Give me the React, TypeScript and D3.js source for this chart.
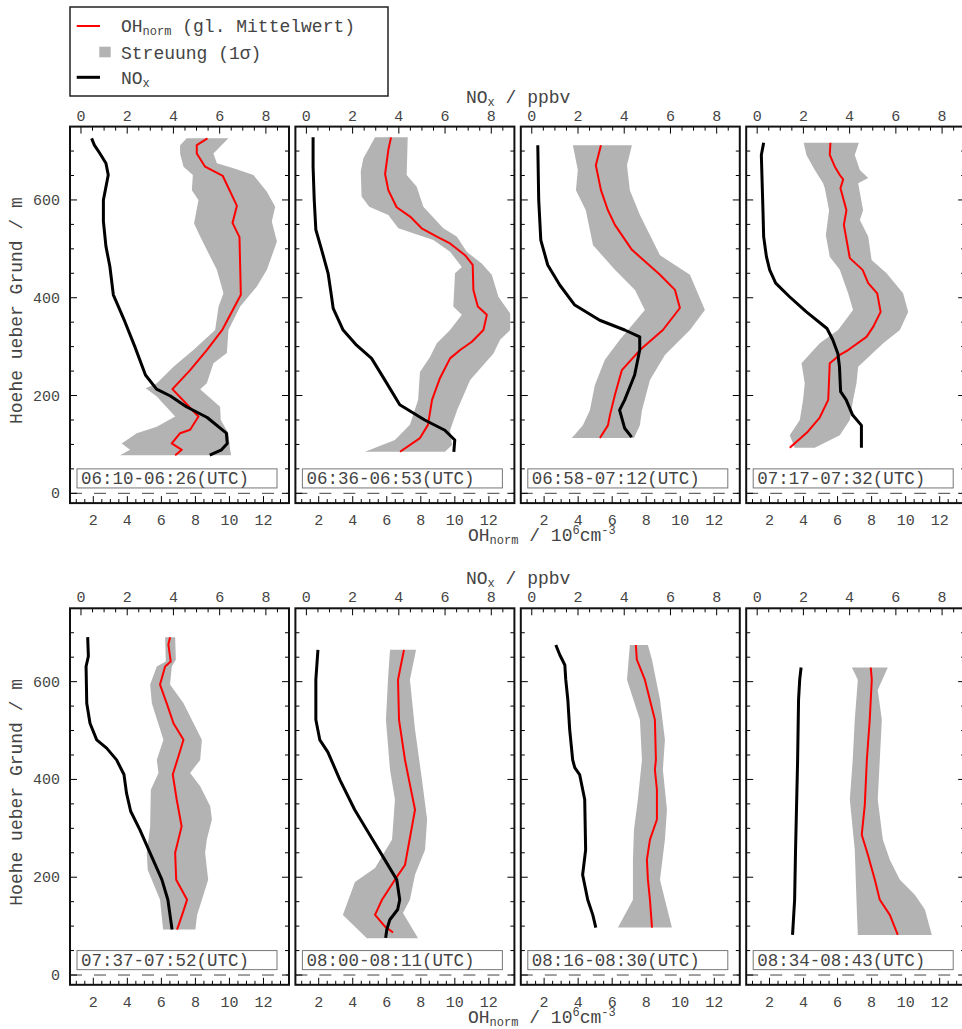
import React from 'react';
import * as d3 from 'd3';

type P = [number, number]; // [height above ground (m), value]

// ---------- panel labels ----------
const timeLabels: string[] = [
  '06:10-06:26(UTC)', '06:36-06:53(UTC)', '06:58-07:12(UTC)', '07:17-07:32(UTC)',
  '07:37-07:52(UTC)', '08:00-08:11(UTC)', '08:16-08:30(UTC)', '08:34-08:43(UTC)',
];

// ---------- tick values ----------
const ohMajorTicks: number[] = [2, 4, 6, 8, 10, 12];
const noxMajorTicks: number[] = [0, 2, 4, 6, 8];
const heightMajorTicks: number[] = [0, 200, 400, 600];

// ---------- Panel 1 ----------
const p1Oh: P[] = [[726, 8.71], [712, 8.08], [695, 8.08], [668, 8.57], [649, 9.61], [588, 10.44], [553, 10.18], [524, 10.59], [406, 10.67], [335, 9.59], [293, 8.67], [252, 7.69], [213, 6.65], [157, 8.18], [130, 7.69], [123, 7.1], [102, 6.61], [89, 7.2], [78, 6.81]];
const p1Lo: P[] = [[726, 7.49], [712, 7.1], [695, 7.1], [668, 7.3], [651, 7.85], [620, 7.79], [600, 8.18], [552, 7.92], [525, 8.28], [491, 8.77], [457, 9.26], [409, 9.65], [382, 9.36], [334, 9.16], [293, 7.88], [259, 6.71], [225, 5.73], [215, 5.08], [198, 5.73], [157, 6.81], [136, 5.73], [123, 4.55], [102, 3.67], [89, 4.16], [78, 3.57]];
const p1Hi: P[] = [[726, 9.94], [695, 9.06], [675, 9.26], [665, 10.24], [651, 11.41], [617, 12.2], [586, 12.69], [556, 12.49], [515, 12.79], [457, 12.2], [423, 11.61], [382, 10.63], [334, 9.94], [287, 9.85], [266, 9.06], [225, 8.67], [213, 8.28], [177, 9.45], [150, 9.49], [123, 9.94], [89, 10.04], [78, 10.1]];
const p1Nox: P[] = [[726, 0.46], [712, 0.58], [695, 0.82], [675, 1.08], [651, 1.18], [600, 0.97], [556, 0.97], [505, 1.08], [464, 1.25], [406, 1.4], [351, 1.9], [300, 2.33], [242, 2.79], [213, 3.27], [199, 3.87], [177, 4.56], [155, 5.46], [123, 6.29], [102, 6.33], [89, 6.08], [78, 5.57]];

// ---------- Panel 2 ----------
const p2Oh: P[] = [[728, 6.25], [702, 6.09], [653, 5.9], [620, 6.09], [585, 6.58], [566, 7.37], [542, 8.05], [525, 8.94], [511, 9.72], [487, 10.6], [467, 11.05], [416, 11.09], [382, 11.35], [365, 11.88], [334, 11.68], [310, 11.0], [293, 10.31], [276, 9.72], [236, 9.13], [191, 8.66], [140, 8.42], [113, 7.95], [85, 6.78]];
const p2Lo: P[] = [[728, 5.31], [685, 4.62], [658, 4.47], [607, 4.52], [586, 4.97], [569, 6.09], [542, 6.68], [518, 8.74], [494, 9.72], [463, 10.41], [450, 10.01], [382, 9.91], [365, 10.41], [334, 9.72], [307, 8.94], [279, 8.54], [248, 7.95], [191, 7.84], [140, 7.36], [109, 6.48], [85, 4.72]];
const p2Hi: P[] = [[728, 7.23], [651, 7.17], [627, 7.76], [586, 8.15], [542, 9.32], [525, 10.11], [494, 10.7], [470, 11.58], [447, 12.17], [402, 12.56], [368, 13.25], [334, 13.25], [314, 12.66], [286, 12.27], [232, 10.9], [170, 10.13], [129, 9.72], [99, 9.84], [85, 9.42]];
const p2Nox: P[] = [[728, 0.29], [668, 0.29], [600, 0.34], [539, 0.41], [498, 0.66], [450, 0.94], [402, 1.09], [378, 1.16], [334, 1.59], [303, 2.17], [276, 2.82], [232, 3.39], [181, 4.04], [150, 5.12], [129, 5.99], [109, 6.42], [85, 6.38]];

// ---------- Panel 3 ----------
const p3Oh: P[] = [[712, 5.34], [671, 5.04], [620, 5.34], [579, 5.75], [549, 6.16], [498, 7.16], [447, 8.81], [416, 9.69], [379, 9.98], [334, 8.98], [293, 7.63], [252, 6.57], [201, 6.16], [160, 5.87], [139, 5.75], [113, 5.28]];
const p3Lo: P[] = [[712, 3.69], [661, 3.98], [620, 3.87], [579, 4.45], [508, 4.87], [457, 6.16], [416, 7.34], [375, 7.92], [314, 6.45], [273, 5.57], [221, 4.98], [170, 4.69], [139, 4.28], [113, 3.63]];
const p3Hi: P[] = [[712, 7.16], [671, 6.87], [620, 7.04], [569, 7.63], [487, 8.81], [447, 10.57], [375, 11.45], [334, 10.57], [283, 9.1], [232, 8.22], [170, 7.75], [139, 7.63], [113, 7.28]];
const p3Nox: P[] = [[712, 0.26], [600, 0.3], [518, 0.39], [467, 0.69], [426, 1.21], [385, 1.86], [354, 2.94], [334, 4.02], [320, 4.67], [293, 4.67], [242, 4.45], [191, 4.02], [170, 3.8], [133, 4.02], [115, 4.32]];

// ---------- Panel 4 ----------
const p4Oh: P[] = [[717, 5.58], [692, 5.54], [668, 5.84], [651, 6.13], [642, 6.33], [624, 6.17], [579, 6.52], [549, 6.37], [481, 6.72], [457, 7.47], [430, 7.8], [409, 8.33], [371, 8.53], [341, 8.1], [320, 7.7], [293, 6.62], [283, 6.13], [266, 5.54], [191, 5.45], [181, 5.31], [155, 4.95], [126, 4.25], [93, 3.19]];
const p4Lo: P[] = [[717, 4.01], [692, 4.17], [661, 4.66], [634, 5.15], [624, 5.25], [579, 5.5], [528, 5.31], [484, 5.54], [457, 6.13], [409, 6.62], [375, 6.91], [334, 6.03], [307, 4.95], [266, 3.88], [225, 4.07], [191, 3.97], [150, 3.78], [119, 3.19], [93, 3.48]];
const p4Hi: P[] = [[717, 7.25], [692, 7.01], [661, 7.31], [645, 7.8], [634, 7.21], [579, 7.5], [559, 7.31], [525, 7.8], [477, 8.0], [450, 8.88], [409, 9.85], [371, 10.15], [334, 9.66], [307, 8.68], [259, 7.21], [225, 7.11], [191, 6.91], [150, 6.72], [119, 6.13], [93, 4.66]];
const p4Nox: P[] = [[717, 0.28], [692, 0.18], [627, 0.22], [579, 0.25], [525, 0.28], [484, 0.4], [457, 0.54], [430, 0.8], [402, 1.4], [371, 2.13], [337, 3.02], [314, 3.27], [286, 3.49], [259, 3.56], [208, 3.61], [191, 3.85], [160, 4.13], [139, 4.51], [93, 4.51]];

// ---------- Panel 5 ----------
const p5Oh: P[] = [[691, 6.51], [676, 6.41], [641, 6.55], [631, 6.22], [594, 5.92], [556, 6.31], [515, 6.71], [481, 7.3], [447, 7.0], [410, 6.67], [359, 6.9], [304, 7.19], [250, 6.81], [195, 6.87], [154, 7.51], [123, 7.22], [93, 6.92]];
const p5Lo: P[] = [[691, 6.22], [641, 6.26], [631, 5.73], [594, 5.34], [556, 5.44], [481, 6.12], [440, 5.73], [413, 5.83], [379, 5.38], [304, 5.34], [250, 5.14], [215, 5.2], [154, 5.92], [93, 6.1]];
const p5Hi: P[] = [[691, 6.81], [645, 6.85], [631, 6.61], [594, 6.51], [556, 7.3], [515, 7.89], [481, 8.38], [440, 8.28], [413, 7.69], [386, 8.28], [345, 8.87], [318, 8.97], [277, 8.67], [250, 8.57], [195, 8.75], [123, 8.1], [93, 8.0]];
const p5Nox: P[] = [[691, 0.29], [652, 0.32], [631, 0.22], [556, 0.25], [515, 0.39], [481, 0.68], [464, 1.11], [440, 1.54], [410, 1.86], [372, 1.97], [335, 2.15], [297, 2.55], [243, 3.05], [195, 3.5], [154, 3.76], [93, 3.94]];

// ---------- Panel 6 ----------
const p6Oh: P[] = [[665, 7.01], [604, 6.66], [522, 6.72], [440, 7.07], [369, 7.48], [338, 7.66], [225, 7.07], [195, 6.48], [154, 5.72], [123, 5.31], [99, 5.9], [87, 6.37]];
const p6Lo: P[] = [[665, 6.19], [604, 6.07], [522, 5.95], [420, 6.19], [359, 6.48], [277, 6.31], [219, 5.31], [190, 4.13], [123, 3.42], [75, 4.83]];
const p6Hi: P[] = [[665, 7.72], [604, 7.36], [502, 7.66], [399, 8.07], [318, 8.37], [256, 8.25], [205, 7.66], [154, 7.36], [127, 6.95], [75, 7.84]];
const p6Nox: P[] = [[665, 0.5], [604, 0.41], [522, 0.41], [481, 0.58], [456, 0.93], [399, 1.45], [338, 2.09], [287, 2.74], [236, 3.39], [195, 3.91], [154, 4.04], [134, 3.95], [113, 3.61], [93, 3.48], [76, 3.43]];

// ---------- Panel 7 ----------
const p7Oh: P[] = [[675, 7.39], [645, 7.45], [604, 7.92], [522, 8.51], [440, 8.57], [420, 8.51], [379, 8.63], [318, 8.63], [277, 8.22], [236, 8.04], [195, 8.1], [154, 8.22], [97, 8.34]];
const p7Lo: P[] = [[675, 7.04], [604, 6.87], [522, 7.63], [440, 7.75], [359, 7.51], [297, 7.28], [236, 7.22], [154, 7.22], [97, 6.34]];
const p7Hi: P[] = [[675, 8.1], [645, 8.34], [563, 8.81], [481, 9.1], [420, 8.98], [338, 9.22], [277, 9.1], [195, 8.81], [154, 9.1], [97, 9.51]];
const p7Nox: P[] = [[675, 1.04], [655, 1.21], [634, 1.43], [604, 1.47], [563, 1.56], [502, 1.64], [440, 1.77], [424, 1.86], [410, 2.07], [359, 2.29], [256, 2.33], [205, 2.2], [154, 2.42], [123, 2.64], [97, 2.77]];

// ---------- Panel 8 ----------
const p8Oh: P[] = [[629, 7.95], [604, 8.01], [522, 7.89], [440, 7.72], [348, 7.6], [287, 7.42], [246, 7.78], [195, 8.19], [154, 8.48], [123, 9.07], [82, 9.54]];
const p8Lo: P[] = [[629, 6.84], [604, 7.19], [522, 7.01], [440, 6.89], [359, 6.72], [256, 7.01], [195, 7.07], [134, 7.13], [82, 7.19]];
const p8Hi: P[] = [[629, 8.95], [583, 8.36], [522, 8.6], [440, 8.48], [359, 8.36], [277, 8.66], [236, 9.07], [195, 9.66], [164, 10.54], [134, 11.13], [82, 11.54]];
const p8Nox: P[] = [[629, 1.9], [604, 1.84], [563, 1.79], [440, 1.75], [359, 1.71], [256, 1.66], [154, 1.62], [82, 1.53]];

const panelOh = [p1Oh, p2Oh, p3Oh, p4Oh, p5Oh, p6Oh, p7Oh, p8Oh];
const panelLo = [p1Lo, p2Lo, p3Lo, p4Lo, p5Lo, p6Lo, p7Lo, p8Lo];
const panelHi = [p1Hi, p2Hi, p3Hi, p4Hi, p5Hi, p6Hi, p7Hi, p8Hi];
const panelNox = [p1Nox, p2Nox, p3Nox, p4Nox, p5Nox, p6Nox, p7Nox, p8Nox];

const W = 962;
const H = 1029;
const MONO = '"Liberation Mono", "DejaVu Sans Mono", monospace';
const TXT = '#444';

const panelLefts = [70, 295.4, 520.8, 746.2];
const panelWidth = 219;
const rowTops = [126.6, 608.3];
const ohDomain: [number, number] = [0.63, 13.5];
const noxDomain: [number, number] = [-0.475, 9.0];
const hDomain: [number, number] = [-20, 750];
const rowHeight = 376.5;

function range(a: number, b: number, s: number): number[] {
  const out: number[] = [];
  for (let v = a; v <= b + 1e-9; v += s) out.push(Math.round(v * 100) / 100);
  return out;
}

function Panel({ idx }: { idx: number }) {
  const col = idx % 4;
  const row = Math.floor(idx / 4);
  const L = panelLefts[col];
  const R = L + panelWidth;
  const T = rowTops[row];
  const B = T + rowHeight;
  const x = d3.scaleLinear().domain(ohDomain).range([L, R]);
  const xn = d3.scaleLinear().domain(noxDomain).range([L, R]);
  const y = d3.scaleLinear().domain(hDomain).range([B, T]);

  const lineOh = d3.line<P>().x((d) => x(d[1])).y((d) => y(d[0]));
  const lineNox = d3.line<P>().x((d) => xn(d[1])).y((d) => y(d[0]));
  const band = [...panelLo[idx], ...[...panelHi[idx]].reverse()];
  const bandPath = lineOh(band) + 'Z';

  const ohTicks = range(1, 13.5, 0.5).filter((v) => v > ohDomain[0] && v < ohDomain[1]);
  const noxTicks = range(0, 8.5, 0.5);
  const hTicks = range(0, 700, 50);

  const box = { x0: L + 7, x1: R - 12, y0: y(50), y1: y(11) };

  return (
    <g>
      <path d={bandPath} fill="#b3b3b3" stroke="none" />
      <path d={lineOh(panelOh[idx]) || ''} fill="none" stroke="#ff0000" strokeWidth={2} strokeLinejoin="round" />
      <path d={lineNox(panelNox[idx]) || ''} fill="none" stroke="#000" strokeWidth={3} strokeLinejoin="round" />
      {/* ground dashed line */}
      <line x1={L} x2={R} y1={y(0)} y2={y(0)} stroke="#444" strokeWidth={1} strokeDasharray="12 12" />
      {/* time label box */}
      <rect x={box.x0} y={box.y0} width={box.x1 - box.x0} height={box.y1 - box.y0} fill="#fff" stroke="#777" strokeWidth={1} />
      <text x={box.x0 + 4} y={box.y1 - 4} fontFamily={MONO} fontSize={17.5} fill={TXT}>{timeLabels[idx]}</text>
      {/* bottom OH ticks */}
      {ohTicks.map((v) => {
        const major = ohMajorTicks.includes(v);
        return <line key={'ob' + v} x1={x(v)} x2={x(v)} y1={B} y2={B - (major ? 7 : 4)} stroke="#000" strokeWidth={1} />;
      })}
      {ohMajorTicks.map((v) => (
        <text key={'obl' + v} x={x(v)} y={B + 22} textAnchor="middle" fontFamily={MONO} fontSize={15} fill={TXT}>{v}</text>
      ))}
      {/* top NOx ticks */}
      {noxTicks.map((v) => {
        const major = noxMajorTicks.includes(v);
        return <line key={'nt' + v} x1={xn(v)} x2={xn(v)} y1={T} y2={T + (major ? 7 : 4)} stroke="#000" strokeWidth={1} />;
      })}
      {noxMajorTicks.map((v) => (
        <text key={'ntl' + v} x={xn(v)} y={T - 6} textAnchor="middle" fontFamily={MONO} fontSize={15} fill={TXT}>{v}</text>
      ))}
      {/* left / right height ticks */}
      {hTicks.map((v) => {
        const major = heightMajorTicks.includes(v);
        const len = major ? 7 : 4;
        return (
          <g key={'h' + v}>
            <line x1={L} x2={L + len} y1={y(v)} y2={y(v)} stroke="#000" strokeWidth={1} />
            <line x1={R} x2={R - len} y1={y(v)} y2={y(v)} stroke="#000" strokeWidth={1} />
          </g>
        );
      })}
      {col === 0 && heightMajorTicks.map((v) => (
        <text key={'hl' + v} x={L - 10} y={y(v) + 5} textAnchor="end" fontFamily={MONO} fontSize={15} fill={TXT}>{v}</text>
      ))}
      {/* frame */}
      <rect x={L} y={T} width={R - L} height={B - T} fill="none" stroke="#111" strokeWidth={2} />
    </g>
  );
}

export default function App() {
  return (
    <svg width={W} height={H} style={{ position: 'absolute', left: 0, top: 0, background: '#fff' }}>
      <rect x={0} y={0} width={W} height={H} fill="#fff" />
      {/* legend */}
      <g>
        <rect x={70} y={7} width={318} height={89} fill="#fff" stroke="#222" strokeWidth={1.5} />
        <line x1={76.7} x2={100} y1={26} y2={26} stroke="#ff0000" strokeWidth={2} />
        <text x={121} y={32} fontFamily={MONO} fontSize={18} fill={TXT} style={{ whiteSpace: 'pre' }}>
          OH<tspan fontSize={12} dy={3}>norm</tspan><tspan dy={-3}> (gl. Mittelwert)</tspan>
        </text>
        <rect x={99.3} y={46.7} width={11.4} height={10.6} fill="#b3b3b3" />
        <text x={121} y={58.5} fontFamily={MONO} fontSize={18} fill={TXT}>Streuung (1σ)</text>
        <line x1={76.7} x2={100} y1={77.3} y2={77.3} stroke="#000" strokeWidth={3} />
        <text x={121} y={83.5} fontFamily={MONO} fontSize={18} fill={TXT}>
          NO<tspan fontSize={12} dy={3}>x</tspan>
        </text>
      </g>
      {d3.range(8).map((i) => <Panel key={i} idx={i} />)}
      {/* axis titles */}
      {rowTops.map((T, r) => (
        <g key={'t' + r}>
          <text x={466} y={T - 24} fontFamily={MONO} fontSize={18} fill={TXT} style={{ whiteSpace: 'pre' }}>
            NO<tspan fontSize={12} dy={3}>x</tspan><tspan dy={-3}> / ppbv</tspan>
          </text>
          <text x={468} y={T + rowHeight + 38} fontFamily={MONO} fontSize={18} fill={TXT} style={{ whiteSpace: 'pre' }}>
            OH<tspan fontSize={12} dy={3}>norm</tspan><tspan dy={-3}> / 10</tspan><tspan fontSize={12} dy={-7}>6</tspan><tspan dy={7}>cm</tspan><tspan fontSize={12} dy={-7}>-3</tspan>
          </text>
          <text transform={`translate(22, ${T + 184}) rotate(-90)`} textAnchor="middle" fontFamily={MONO} fontSize={18} fill={TXT}>
            Hoehe ueber Grund / m
          </text>
        </g>
      ))}
    </svg>
  );
}
